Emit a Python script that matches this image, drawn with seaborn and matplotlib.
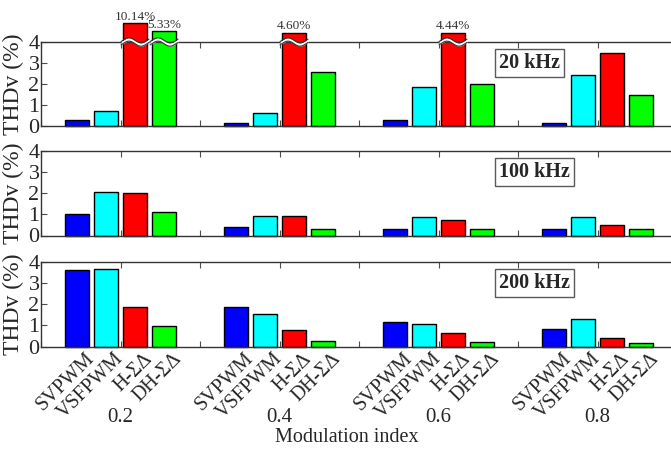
import numpy as np
import pandas as pd
import seaborn as sns
import matplotlib.pyplot as plt

# categories
mod_index = ["0.2", "0.4", "0.6", "0.8"]
methods = ["SVPWM", "VSFPWM", "H-ΣΔ", "DH-ΣΔ"]
method_colors = ["#0000ff", "#00ffff", "#ff0000", "#00ff00"]
freqs = ["20 kHz", "100 kHz", "200 kHz"]

# THDv (%), one value per modulation index
svpwm_20k = [0.27, 0.16, 0.27, 0.15]
vsfpwm_20k = [0.73, 0.60, 1.88, 2.44]
hsd_20k = [10.14, 4.60, 4.44, 3.49]
dhsd_20k = [5.33, 2.55, 2.00, 1.46]

svpwm_100k = [1.00, 0.41, 0.33, 0.29]
vsfpwm_100k = [2.08, 0.93, 0.86, 0.86]
hsd_100k = [2.03, 0.92, 0.73, 0.49]
dhsd_100k = [1.10, 0.33, 0.31, 0.29]

svpwm_200k = [3.62, 1.88, 1.14, 0.81]
vsfpwm_200k = [3.65, 1.53, 1.07, 1.29]
hsd_200k = [1.85, 0.76, 0.66, 0.39]
dhsd_200k = [0.96, 0.24, 0.22, 0.16]

panels = {
    "20 kHz": [svpwm_20k, vsfpwm_20k, hsd_20k, dhsd_20k],
    "100 kHz": [svpwm_100k, vsfpwm_100k, hsd_100k, dhsd_100k],
    "200 kHz": [svpwm_200k, vsfpwm_200k, hsd_200k, dhsd_200k],
}

YMAX = 4


def shown_height(v):
    # bars above the axis limit are drawn past it with a break mark
    return v if v <= YMAX else YMAX + 0.4 + 0.08 * (v - YMAX)


rows = []
for f, series in panels.items():
    for meth, vals in zip(methods, series):
        for m, v in zip(mod_index, vals):
            rows.append({"freq": f, "method": meth, "m": m, "thd": v, "shown": shown_height(v)})
df = pd.DataFrame(rows)

sns.set_style("ticks")
plt.rcParams["font.family"] = ["Liberation Serif", "DejaVu Serif"]
plt.rcParams["axes.edgecolor"] = "0.2"
plt.rcParams["axes.linewidth"] = 1.0

fig = plt.figure(figsize=(6.71, 4.49), dpi=100)

W, H = 671, 449
left_px, width_px = 41, 636
panel_px = [(42, 126), (151, 235.5), (262, 346.5)]
label_pos = {"20 kHz": 2.575, "100 kHz": 2.605, "200 kHz": 2.605}

for f, (top, bot) in zip(freqs, panel_px):
    ax = fig.add_axes([left_px / W, 1 - bot / H, width_px / W, (bot - top) / H])
    sub = df[df["freq"] == f]
    sns.barplot(data=sub, x="m", y="shown", hue="method", order=mod_index,
                hue_order=methods, palette=method_colors, saturation=1,
                width=0.73, gap=0.17, edgecolor="black", linewidth=1,
                errorbar=None, legend=False, ax=ax)
    ax.set_xlim(-0.5, 3.5)
    ax.set_ylim(0, YMAX)
    ax.set_yticks(range(0, 5))
    ax.set_xticks(np.arange(-0.5, 3.51, 0.5))
    ax.tick_params(axis="x", direction="in", top=True, bottom=True,
                   labelbottom=False, length=4, color="0.3")
    ax.tick_params(axis="y", direction="in", left=True, right=True,
                   labelsize=16, length=4, pad=1, color="0.3")
    ax.set_xlabel("")
    ax.set_ylabel("THDv (%)", fontsize=17, labelpad=0)
    ax.yaxis.set_label_coords(-0.026, 0.5)

    ax.text(label_pos[f], 3.0, f, fontsize=14.5, fontweight="bold",
            ha="center", va="center",
            bbox=dict(boxstyle="square,pad=0.2", fc="white", ec="0.35", lw=1))

    for meth, cont, vals in zip(methods, ax.containers, panels[f]):
        for patch, v in zip(cont.patches, vals):
            patch.set_clip_on(False)
            x0, w = patch.get_x(), patch.get_width()
            xc = x0 + w / 2
            if v > YMAX:
                xs = np.linspace(x0 - 0.012, x0 + w + 0.012, 60)
                wave = YMAX + 0.12 * np.sin(2 * np.pi * (xs - x0) / w)
                ax.fill_between(xs, wave - 0.08, wave + 0.08, color="white",
                                zorder=5, clip_on=False, lw=0)
                ax.plot(xs, wave - 0.08, color="0.2", lw=0.8, zorder=6, clip_on=False)
                ax.plot(xs, wave + 0.08, color="0.2", lw=0.8, zorder=6, clip_on=False)
                ax.text(xc, patch.get_height() + 0.02, f"{v:.2f}%", ha="center",
                        va="bottom", fontsize=9.5, color="0.2")
            if f == freqs[-1]:
                ax.annotate(meth, xy=(xc, 0), xycoords=("data", "axes fraction"),
                            xytext=(6, -2), textcoords="offset points",
                            rotation=45, ha="right", va="top",
                            rotation_mode="anchor", fontsize=14.5)

    if f == freqs[-1]:
        for i, m in enumerate(mod_index):
            ax.annotate(m, xy=(i, 0), xycoords=("data", "axes fraction"),
                        xytext=(0, -51), textcoords="offset points",
                        ha="center", va="center", fontsize=15)

fig.text(347 / W, 1 - 438 / H, "Modulation index", ha="center", va="center",
         fontsize=14.5)

fig.savefig("out.png", dpi=100)
